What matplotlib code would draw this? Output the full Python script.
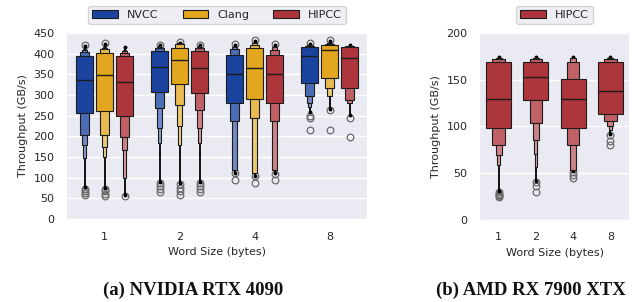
import matplotlib
matplotlib.use("Agg")
import matplotlib.pyplot as plt
import matplotlib.colors as mcolors
from matplotlib.patches import Patch
import numpy as np
import seaborn as sns

sns.set_theme(style="darkgrid")
plt.rcParams['font.family'] = ['DejaVu Sans']

word_sizes = ["1", "2", "4", "8"]
compilers = ["NVCC", "Clang", "HIPCC"]
colors = {"NVCC": "#1a43a0", "Clang": "#e2a61f", "HIPCC": "#ad353c"}

# ---------- Panel (a): NVIDIA RTX 4090 ----------
nvcc_median = [336, 368, 352, 394]
nvcc_levels = [
    [(256, 394), (203, 404), (179, 408), (148, 411)],
    [(308, 406), (268, 414), (219, 417), (184, 419)],
    [(280, 397), (238, 411), (119, 416)],
    [(328, 415), (298, 418), (280, 420), (270, 421)],
]
nvcc_tails = [(77, 419), (90, 421), (112, 421), (258, 423)]
nvcc_outliers = [[72, 67, 62, 57, 422], [87, 80, 72, 65, 422], [112, 94, 423], [249, 244, 215, 425]]

clang_median = [348, 385, 365, 409]
clang_levels = [
    [(261, 402), (204, 411), (175, 413), (151, 415)],
    [(326, 413), (276, 423), (225, 425), (179, 426)],
    [(290, 413), (244, 421), (111, 425)],
    [(340, 421), (316, 424), (298, 426)],
]
clang_tails = [(75, 424), (86, 427), (105, 431), (266, 431)]
clang_outliers = [[73, 67, 61, 56, 426], [84, 76, 68, 58, 429], [104, 88, 433], [264, 215, 433]]

hipcc_median_a = [332, 366, 352, 390]
hipcc_levels_a = [
    [(249, 394), (198, 402), (167, 406), (99, 410)],
    [(306, 406), (264, 414), (219, 417), (184, 419)],
    [(280, 397), (238, 410), (118, 415)],
    [(316, 415), (288, 418), (281, 419)],
]
hipcc_tails_a = [(58, 417), (90, 421), (111, 421), (252, 421)]
hipcc_outliers_a = [[55], [87, 79, 72, 65, 422], [110, 95, 423], [244, 199]]

# ---------- Panel (b): AMD RX 7900 XTX ----------
hipcc_median_b = [129, 153, 129, 138]
hipcc_levels_b = [
    [(98.7, 169.4), (80, 172), (69.5, 173), (59, 173.5)],
    [(128, 169.4), (103.4, 172), (85.6, 173), (71, 173.5), (57, 174)],
    [(98.7, 151), (80, 169.4), (53.5, 173)],
    [(113.4, 169.4), (106, 172), (100.5, 173), (96, 173.5)],
]
hipcc_tails_b = [(31, 174), (42, 174), (52, 174), (92, 174)]
hipcc_outliers_b = [[30, 28, 27, 26, 25], [41, 36, 30], [51.5, 48, 45], [91, 84, 80]]

EDGE = "#1c1c1c"
SHADES = [0.0, 0.22, 0.38, 0.5, 0.58, 0.64]


def blend(c, t):
    r = np.array(mcolors.to_rgb(c))
    return tuple(r * (1 - t) + np.ones(3) * t)


def draw_box(ax, x, w, minw, median, levels, tail, outliers, color):
    n = len(levels)
    ax.vlines(x, tail[0], tail[1], color="black", lw=1.3, zorder=2.6)
    ax.plot([x, x], [tail[0], tail[1]], "o", ms=1.8, color="black", zorder=2.7)
    for k in reversed(range(n)):
        lo, hi = levels[k]
        wk = max(w * 0.5 ** k, minw)
        ax.bar(x, hi - lo, bottom=lo, width=wk, color=blend(color, SHADES[k]),
               edgecolor=EDGE, linewidth=0.8, zorder=3 + (n - k) * 0.1)
    ax.hlines(median, x - w / 2, x + w / 2, color=EDGE, lw=1.0, zorder=5)
    ax.plot([x] * len(outliers), outliers, "o", ms=4.8, mfc="none",
            mec="#6a6a6a", mew=0.9, zorder=2.5)


fig = plt.figure(figsize=(6.36, 3.02), dpi=100)
ax_a = fig.add_axes([67 / 636, 1 - 219 / 302, 300 / 636, 186 / 302])
ax_b = fig.add_axes([480 / 636, 1 - 220 / 302, 149 / 636, 187 / 302])

series_a = [
    ("NVCC", nvcc_median, nvcc_levels, nvcc_tails, nvcc_outliers),
    ("Clang", clang_median, clang_levels, clang_tails, clang_outliers),
    ("HIPCC", hipcc_median_a, hipcc_levels_a, hipcc_tails_a, hipcc_outliers_a),
]
slot = 0.8 / 3
for j, (name, med, lev, tl, outl) in enumerate(series_a):
    for i in range(len(word_sizes)):
        x = i + (j - 1) * slot
        draw_box(ax_a, x, 0.22, 0.032, med[i], lev[i], tl[i], outl[i], colors[name])

for i in range(len(word_sizes)):
    draw_box(ax_b, i, 0.667, 0.065, hipcc_median_b[i], hipcc_levels_b[i],
             hipcc_tails_b[i], hipcc_outliers_b[i], colors["HIPCC"])

for ax, ymax in [(ax_a, 450), (ax_b, 200)]:
    ax.set_xlim(-0.5, len(word_sizes) - 0.5)
    ax.set_ylim(0, ymax)
    ax.set_yticks(np.arange(0, ymax + 1, 50))
    ax.set_xticks(range(len(word_sizes)))
    ax.set_xticklabels(word_sizes)
    ax.xaxis.grid(False)
    ax.tick_params(labelsize=8, colors="#262626", pad=3)
    ax.set_xlabel("Word Size (bytes)", fontsize=8, color="#262626")
    ax.set_ylabel("Throughput (GB/s)", fontsize=8, color="#262626")
    for s in ax.spines.values():
        s.set_visible(False)

h_a = [Patch(facecolor=colors[c], edgecolor=EDGE, linewidth=0.8) for c in compilers]
ax_a.legend(h_a, compilers, loc="lower center", bbox_to_anchor=(0.5, 1.02), ncol=3,
            fontsize=8, handlelength=2.3, handletextpad=0.8, columnspacing=2.2,
            borderpad=0.35, frameon=True)
ax_b.legend([Patch(facecolor=colors["HIPCC"], edgecolor=EDGE, linewidth=0.8)], ["HIPCC"],
            loc="lower center", bbox_to_anchor=(0.5, 1.02), ncol=1,
            fontsize=8, handlelength=2.3, handletextpad=0.8, borderpad=0.35, frameon=True)

fig.text(193 / 636, 1 - 290 / 302, "(a) NVIDIA RTX 4090", ha="center", va="center",
         fontfamily="Liberation Serif", fontweight="bold", fontsize=13.5, color="#111111")
fig.text(531 / 636, 1 - 290 / 302, "(b) AMD RX 7900 XTX", ha="center", va="center",
         fontfamily="Liberation Serif", fontweight="bold", fontsize=13.5, color="#111111")

fig.savefig("out.png", dpi=100)
